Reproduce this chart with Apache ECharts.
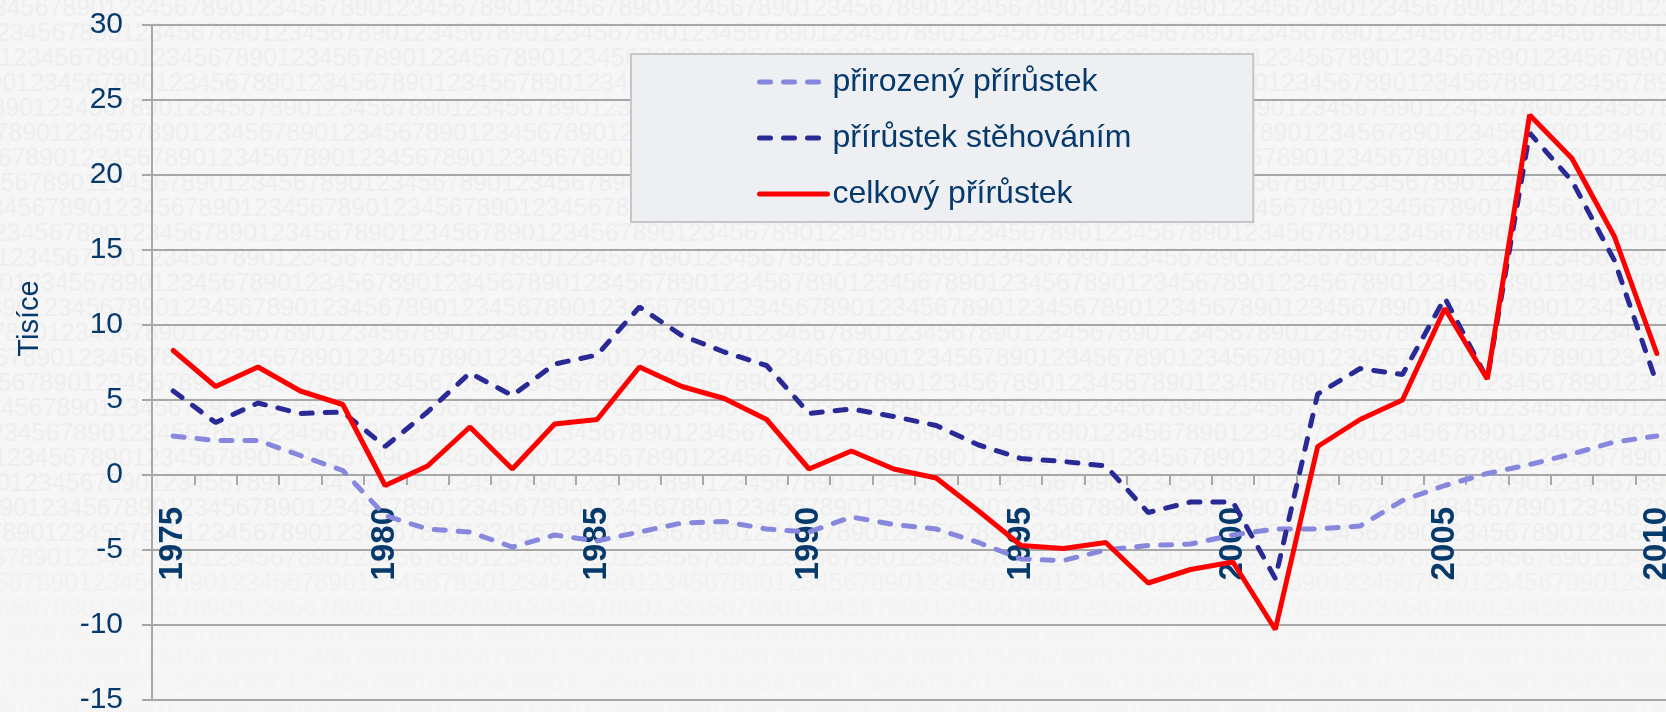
<!DOCTYPE html>
<html>
<head>
<meta charset="utf-8">
<title>Přírůstek obyvatel</title>
<script src="https://cdn.jsdelivr.net/npm/echarts@6/dist/echarts.min.js"></script>
<style>
html, body { margin: 0; padding: 0; background: #f6f6f6; }
#wrap { position: relative; width: 1666px; height: 712px; overflow: hidden; }
#bg {
	position: absolute; left: 0; top: -5px; width: 1666px; height: 720px; overflow: hidden;
	font-family: 'Liberation Sans', Arial, sans-serif; font-size: 25px; line-height: 25px;
	white-space: nowrap;
}
#chart { position: absolute; left: 0; top: 0; width: 1666px; height: 712px; }
</style>
</head>
<body>
<div id="wrap">
	<div id="bg"></div>
	<div id="chart"></div>
</div>
<script>
const years = [
	'1975', '1976', '1977', '1978', '1979', '1980', '1981', '1982', '1983', '1984',
	'1985', '1986', '1987', '1988', '1989', '1990', '1991', '1992', '1993', '1994',
	'1995', '1996', '1997', '1998', '1999', '2000', '2001', '2002', '2003', '2004',
	'2005', '2006', '2007', '2008', '2009', '2010'
]
// přirozený přírůstek (tisíce)
const natural = [
	2.6, 2.3, 2.3, 1.3, 0.3, -2.7, -3.6, -3.8, -4.8, -4.0,
	-4.4, -3.8, -3.2, -3.1, -3.6, -3.8, -2.8, -3.3, -3.6, -4.5,
	-5.6, -5.7, -5.0, -4.7, -4.6, -4.0, -3.6, -3.6, -3.4, -1.7,
	-0.7, 0.1, 0.7, 1.4, 2.2, 2.6
]
// přírůstek stěhováním (tisíce)
const migration = [
	5.6, 3.5, 4.8, 4.1, 4.2, 1.9, 4.2, 6.8, 5.3, 7.4,
	8.0, 11.2, 9.3, 8.2, 7.3, 4.1, 4.4, 3.9, 3.3, 2.0,
	1.1, 0.9, 0.6, -2.5, -1.8, -1.8, -6.9, 5.4, 7.1, 6.7,
	11.8, 6.4, 22.8, 19.6, 14.3, 6.1
]
// celkový přírůstek (tisíce)
const total = [
	8.3, 5.9, 7.2, 5.6, 4.7, -0.7, 0.6, 3.2, 0.4, 3.4,
	3.7, 7.2, 5.9, 5.1, 3.7, 0.4, 1.6, 0.4, -0.2, -2.4,
	-4.7, -4.9, -4.5, -7.2, -6.3, -5.8, -10.3, 1.9, 3.7, 5.0,
	11.1, 6.4, 24.0, 21.1, 15.9, 8.1
]
const seriesNames = ['přirozený přírůstek', 'přírůstek stěhováním', 'celkový přírůstek']
const yTicks = { min: -15, max: 30, step: 5 }

// watermark rows of digits behind the chart, fading towards the bottom
const bg = document.getElementById('bg')
const digits = '1234567890'.repeat(14)
for (let k = 0; k < 30; k++) {
	const row = document.createElement('div')
	const shift = ((k * 17 - 35) % 139 + 139) % 139 - 139
	row.style.marginLeft = shift + 'px'
	const g = k < 22 ? 238 : Math.min(244, 238 + (k - 21) * 1.5)
	row.style.color = 'rgb(' + g + ',' + g + ',' + g + ')'
	row.textContent = digits
	bg.appendChild(row)
}

const textColor = '#073a6c'
const gridColor = '#a8a8a8'

const chart = echarts.init(document.getElementById('chart'))

chart.setOption({
	animation: false,
	backgroundColor: 'transparent',
	textStyle: { fontFamily: 'Liberation Sans, Arial, sans-serif' },
	grid: { left: 152, right: -12, top: 25, bottom: 12, containLabel: false, outerBoundsMode: 'none' },
	legend: {
		orient: 'vertical',
		left: 631,
		top: 54,
		padding: [12, 122, 12, 126],
		backgroundColor: '#eeeff3',
		borderColor: '#c6c6c6',
		borderWidth: 2,
		borderRadius: 0,
		itemWidth: 68,
		itemHeight: 32,
		itemGap: 24,
		selectedMode: false,
		itemStyle: { opacity: 0 },
		lineStyle: { width: 5, cap: 'round' },
		textStyle: { color: textColor, fontSize: 32, lineHeight: 32 },
		data: seriesNames
	},
	xAxis: {
		type: 'category',
		data: years,
		boundaryGap: true,
		// axis sits on the zero line: 0 is 225px above the grid bottom
		offset: -225,
		axisLine: { onZero: false, lineStyle: { color: gridColor, width: 2 } },
		axisTick: { show: true, interval: 0, length: 10, lineStyle: { color: gridColor, width: 2 } },
		axisLabel: {
			interval: 4,
			rotate: 90,
			margin: 32,
			color: textColor,
			fontSize: 33,
			fontWeight: 'bold'
		},
		splitLine: { show: false }
	},
	yAxis: {
		type: 'value',
		min: yTicks.min,
		max: yTicks.max,
		interval: yTicks.step,
		name: 'Tisíce',
		nameLocation: 'middle',
		nameGap: 108,
		nameTextStyle: { color: textColor, fontSize: 29, padding: [0, 0, 0, 88] },
		axisLine: { show: true, lineStyle: { color: gridColor, width: 2 } },
		axisTick: { show: true, length: 10, lineStyle: { color: gridColor, width: 2 } },
		axisLabel: { margin: 29, color: textColor, fontSize: 30 },
		splitLine: { lineStyle: { color: gridColor, width: 2 } }
	},
	series: [
		{
			name: seriesNames[0],
			type: 'line',
			data: natural,
			symbol: 'none',
			lineStyle: { color: '#8787de', width: 5, type: [11, 13], cap: 'round' },
			itemStyle: { color: '#8787de' }
		},
		{
			name: seriesNames[1],
			type: 'line',
			data: migration,
			symbol: 'none',
			lineStyle: { color: '#2a2a96', width: 5, type: [11, 13], cap: 'round' },
			itemStyle: { color: '#2a2a96' }
		},
		{
			name: seriesNames[2],
			type: 'line',
			data: total,
			symbol: 'none',
			lineStyle: { color: '#ff0000', width: 5, cap: 'round' },
			itemStyle: { color: '#ff0000' }
		}
	]
})
</script>
</body>
</html>
